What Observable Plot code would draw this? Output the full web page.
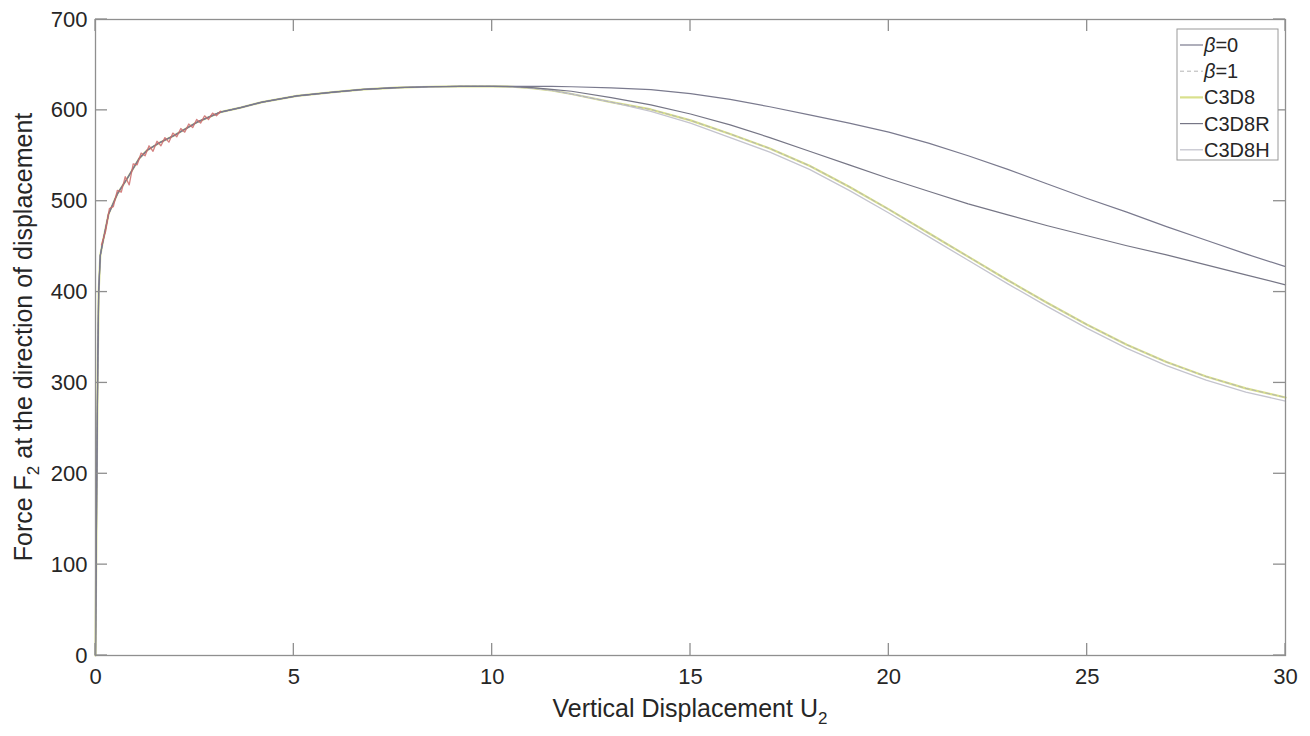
<!DOCTYPE html>
<html><head><meta charset="utf-8">
<script src="https://cdn.jsdelivr.net/npm/d3@7"></script>
<script src="https://cdn.jsdelivr.net/npm/@observablehq/plot@0.6"></script>
<style>body{margin:0;background:#fff}</style>
</head><body><div id="chart"></div>
<script>
// Shared loading branch (all series coincide up to x≈10)
const riseX = [0, 0.02, 0.04, 0.06, 0.08, 0.12, 0.17, 0.33, 0.55, 0.8, 1.1, 1.3, 1.6, 1.97, 2.56, 3.15, 3.66, 4.2, 5.08, 6, 6.76, 7.6, 8.44, 9.2, 10];
const riseY = [0, 120, 240, 330, 400, 440, 452, 486, 508, 525, 547, 556, 564, 572, 587, 598, 603, 609, 616, 620, 623, 625, 626, 626.5, 626.5];
// Softening branch
const tailX = [10.5, 11, 11.5, 12, 13, 14, 15, 16, 17, 18, 19, 20, 21, 22, 23, 24, 25, 26, 27, 28, 29, 30];
const beta0Tail = [626.5, 626.5, 626.3, 626, 624.8, 622.8, 618.5, 612, 604, 595, 586, 576, 564, 550, 535, 519, 503, 488, 472, 457, 442, 428];
const beta1Tail = [626, 624.5, 622, 618, 609, 601, 589, 574, 558, 539, 516, 491, 465, 439, 413, 388, 364, 342, 323, 307, 294, 284];
const c3d8Tail  = [626, 624.5, 622, 618, 609, 601, 589, 574, 558, 539, 516, 491, 465, 439, 413, 388, 364, 342, 323, 307, 294, 284];
const c3d8rTail = [626, 625, 623, 621, 614, 606, 596, 584, 570, 555, 540, 525, 511, 497, 485, 473, 462, 451, 441, 430, 419, 408];
const c3d8hTail = [626, 624.5, 622, 618, 609, 599, 586, 570, 554, 535, 512, 487, 461, 435, 409, 384, 360, 338, 319, 303, 290, 280];
// Noisy early trace
const traceX = [0.15,0.25,0.35,0.45,0.55,0.65,0.75,0.85,0.95,1.05,1.15,1.25,1.35,1.45,1.55,1.65,1.75,1.85,1.95,2.05,2.15,2.25,2.35,2.45,2.55,2.65,2.75,2.85,2.95,3.05,3.15];
const traceY = [452,466,492,494,512,510,527,518,541,540,553,550,561,555,566,561,570,565,575,571,580,576,585,581,590,586,594,590,597,594,599];

const xTicks = [0, 5, 10, 15, 20, 25, 30];
const yTicks = [0, 100, 200, 300, 400, 500, 600, 700];
const seriesNames = ["β=0", "β=1", "C3D8", "C3D8R", "C3D8H"];
const seriesColors = ["#7a7a8e", "#b4b4b4", "#d9e08c", "#767686", "#c4c4ce"];

function build(name, tail) {
  return riseX.map((x, i) => ({series: name, x, y: riseY[i]}))
    .concat(tailX.map((x, i) => ({series: name, x, y: tail[i]})));
}
const tails = [beta0Tail, beta1Tail, c3d8Tail, c3d8rTail, c3d8hTail];
const data = seriesNames.map((n, i) => build(n, tails[i]));
const trace = traceX.map((x, i) => ({x, y: traceY[i]}));

const FONT = "'Liberation Sans', Arial, Helvetica, sans-serif";
const plot = Plot.plot({
  width: 1310, height: 736,
  marginLeft: 95, marginRight: 25, marginTop: 19, marginBottom: 81,
  x: {domain: [0, 30], label: null, axis: null},
  y: {domain: [0, 700], label: null, axis: null},
  style: {fontFamily: FONT, color: "#262626", background: "#fff"},
  marks: [
    Plot.line(data[2], {x: "x", y: "y", stroke: seriesColors[2], strokeWidth: 2.2}),
    Plot.line(data[4], {x: "x", y: "y", stroke: seriesColors[4], strokeWidth: 1.3}),
    Plot.line(data[1], {x: "x", y: "y", stroke: seriesColors[1], strokeWidth: 1, strokeDasharray: "4,3"}),
    Plot.line(data[3], {x: "x", y: "y", stroke: seriesColors[3], strokeWidth: 1.2}),
    Plot.line(data[0], {x: "x", y: "y", stroke: seriesColors[0], strokeWidth: 1.2}),
    Plot.line(trace, {x: "x", y: "y", stroke: "#cc6a6a", strokeWidth: 1.3, strokeOpacity: 0.85}),
    Plot.frame({stroke: "#8f8f8f", strokeWidth: 1.3}),
    Plot.text(xTicks, {x: d => d, y: 0, text: d => String(d), dy: 21, fontSize: 22, fill: "#262626", textAnchor: "middle"}),
    Plot.text(yTicks, {x: 0, y: d => d, text: d => String(d), dx: -8, fontSize: 22, fill: "#262626", textAnchor: "end"})
  ]
});
document.getElementById("chart").appendChild(plot);

const svg = d3.select(plot);
const sx = plot.scale("x"), sy = plot.scale("y");
const x0 = sx.apply(0), x1 = sx.apply(30), y0 = sy.apply(0), y1 = sy.apply(700);
const tl = 12;
const tg = svg.append("g").attr("stroke", "#8f8f8f").attr("stroke-width", 1.3);
xTicks.forEach(t => {
  const px = sx.apply(t);
  tg.append("line").attr("x1", px).attr("x2", px).attr("y1", y0).attr("y2", y0 - tl);
  tg.append("line").attr("x1", px).attr("x2", px).attr("y1", y1).attr("y2", y1 + tl);
});
yTicks.forEach(t => {
  const py = sy.apply(t);
  tg.append("line").attr("x1", x0).attr("x2", x0 + tl).attr("y1", py).attr("y2", py);
  tg.append("line").attr("x1", x1).attr("x2", x1 - tl).attr("y1", py).attr("y2", py);
});

// Axis titles
const xl = svg.append("text").attr("x", (x0 + x1) / 2).attr("y", 717)
  .attr("text-anchor", "middle").attr("font-family", FONT).attr("font-size", 25).attr("fill", "#262626");
xl.append("tspan").text("Vertical Displacement U");
xl.append("tspan").attr("font-size", 17).attr("dy", 7).text("2");

const yl = svg.append("text").attr("transform", `translate(32,${(y0 + y1) / 2}) rotate(-90)`)
  .attr("text-anchor", "middle").attr("font-family", FONT).attr("font-size", 25).attr("fill", "#262626");
yl.append("tspan").text("Force F");
yl.append("tspan").attr("font-size", 17).attr("dy", 7).text("2");
yl.append("tspan").attr("dy", -7).text(" at the direction of displacement");

// Legend
const lg = svg.append("g").attr("font-family", FONT).attr("font-size", 20).attr("fill", "#262626")
  .attr("text-anchor", "start");
lg.append("rect").attr("x", 1177).attr("y", 29).attr("width", 101).attr("height", 131)
  .attr("fill", "#fff").attr("stroke", "#9a9a9a").attr("stroke-width", 1);
const styles = [
  {w: 1.2, dash: null}, {w: 1, dash: "4,3"}, {w: 2.2, dash: null}, {w: 1.2, dash: null}, {w: 1.3, dash: null}
];
seriesNames.forEach((n, i) => {
  const cy = 45 + i * 26.2;
  const ln = lg.append("line").attr("x1", 1180).attr("x2", 1203).attr("y1", cy).attr("y2", cy)
    .attr("stroke", seriesColors[i]).attr("stroke-width", styles[i].w);
  if (styles[i].dash) ln.attr("stroke-dasharray", styles[i].dash);
  const t = lg.append("text").attr("x", 1204).attr("y", cy + 7).attr("text-anchor", "start");
  if (n.startsWith("β")) {
    t.append("tspan").attr("font-style", "italic").text("β");
    t.append("tspan").text(n.slice(1));
  } else t.text(n);
});
</script>
</body></html>
